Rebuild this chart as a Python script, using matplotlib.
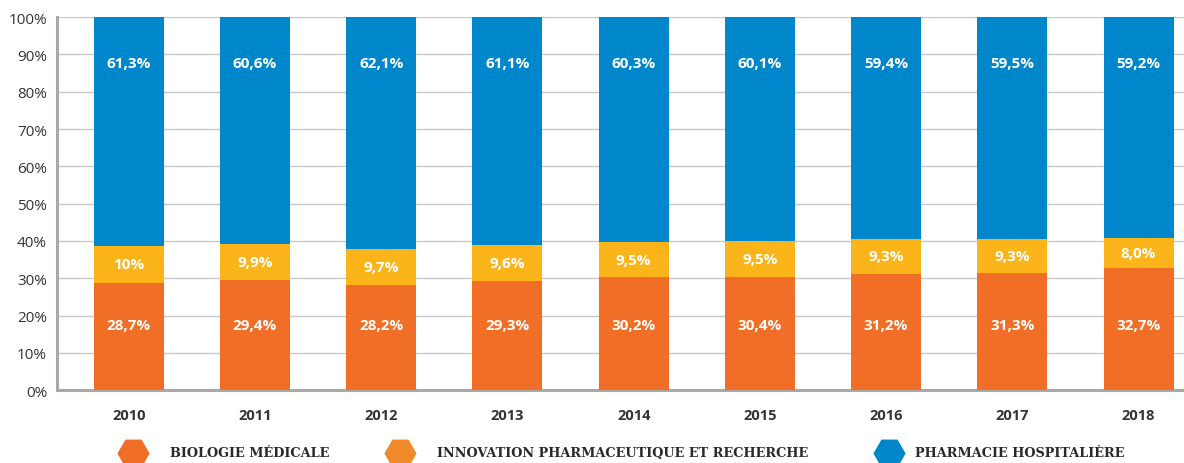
import numpy as np
import matplotlib.pyplot as plt

years = ["2010", "2011", "2012", "2013", "2014", "2015", "2016", "2017", "2018"]
biologie = [28.7, 29.4, 28.2, 29.3, 30.2, 30.4, 31.2, 31.3, 32.7]
innovation = [10.0, 9.9, 9.7, 9.6, 9.5, 9.5, 9.3, 9.3, 8.0]
pharmacie = [61.3, 60.6, 62.1, 61.1, 60.3, 60.1, 59.4, 59.5, 59.2]
lab_bio = ["28,7%", "29,4%", "28,2%", "29,3%", "30,2%", "30,4%", "31,2%", "31,3%", "32,7%"]
lab_inno = ["10%", "9,9%", "9,7%", "9,6%", "9,5%", "9,5%", "9,3%", "9,3%", "8,0%"]
lab_pharma = ["61,3%", "60,6%", "62,1%", "61,1%", "60,3%", "60,1%", "59,4%", "59,5%", "59,2%"]
series_names = ["BIOLOGIE MÉDICALE", "INNOVATION PHARMACEUTIQUE ET RECHERCHE", "PHARMACIE HOSPITALIÈRE"]

c_orange = "#F06E26"
c_yellow = "#FBB41A"
c_blue = "#0086CB"
c_legend2 = "#F08A2A"

fig = plt.figure(figsize=(11.84, 4.64), dpi=100)
ax = fig.add_axes([0.048, 0.157, 0.952, 0.804])

x = np.arange(len(years))
bio = np.array(biologie)
inno = np.array(innovation)
ph = np.array(pharmacie)
w = 0.555

ax.bar(x, bio, w, color=c_orange, zorder=3)
ax.bar(x, inno, w, bottom=bio, color=c_yellow, zorder=3)
ax.bar(x, ph, w, bottom=bio + inno, color=c_blue, zorder=3)

lab_font = dict(family="Open Sans", fontweight="bold", fontsize=11, color="white",
                ha="center", va="center", zorder=4)
for i in range(len(years)):
    ax.text(x[i], 17.5, lab_bio[i], **lab_font)
    ax.text(x[i], bio[i] + inno[i] / 2, lab_inno[i], **lab_font)
    ax.text(x[i], 87.6, lab_pharma[i], **lab_font)

ax.set_xlim(-0.57, 8.36)
ax.set_ylim(0, 100)
ax.set_yticks(np.arange(0, 101, 10))
ax.set_yticklabels([f"{v}%" for v in range(0, 101, 10)], fontsize=11, color="#333333", family="Open Sans")
ax.set_xticks(x)
ax.set_xticklabels(years, fontsize=10.5, fontweight="bold", color="#333333", family="Open Sans")
ax.tick_params(axis="both", length=0)
ax.tick_params(axis="x", pad=13)
ax.tick_params(axis="y", pad=7)
ax.grid(axis="y", color="#C8C8C8", linewidth=1, zorder=0)
for s in ["top", "right"]:
    ax.spines[s].set_visible(False)
for s in ["left", "bottom"]:
    ax.spines[s].set_color("#A8A8A8")
    ax.spines[s].set_linewidth(2.2)

# legend
leg_colors = [c_orange, c_legend2, c_blue]
mark_x = [133 / 1184, 400 / 1184, 889 / 1184]
text_x = [170 / 1184, 437 / 1184, 915 / 1184]
ly = 1 - 454 / 464
for mx, tx, col, name in zip(mark_x, text_x, leg_colors, series_names):
    fig.add_artist(plt.Line2D([mx], [ly], marker="H", markersize=22, color=col,
                              linestyle="none", transform=fig.transFigure))
    fig.text(tx, ly, name, fontsize=9.3, fontweight="bold", color="#2A2A2A",
             family="DejaVu Serif", va="center", ha="left")

fig.savefig("out.png", dpi=100)
